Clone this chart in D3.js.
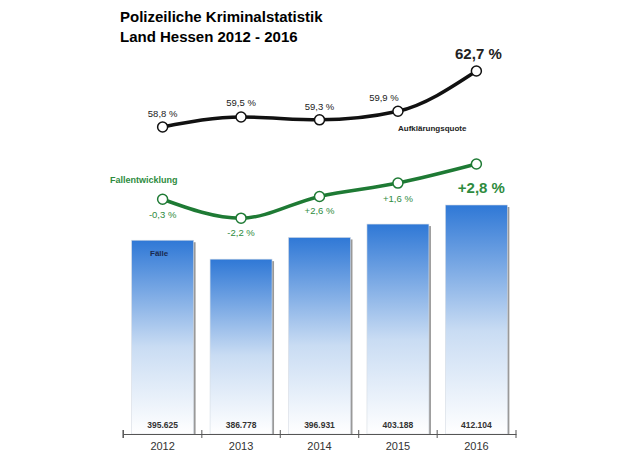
<!DOCTYPE html><html><head><meta charset="utf-8"><script src="https://cdn.jsdelivr.net/npm/d3@7"></script>
<style>body{margin:0;background:#fff}text{font-family:Arial,"Liberation Sans",sans-serif}</style></head><body><svg id="c" width="640" height="456"></svg>
<script>
const years=["2012","2013","2014","2015","2016"];
const cases=[395625,386778,396931,403188,412104];
const caseLabels=["395.625","386.778","396.931","403.188","412.104"];
const quote=[58.8,59.5,59.3,59.9,62.7];
const quoteLabels=["58,8 %","59,5 %","59,3 %","59,9 %","62,7 %"];
const change=["-0,3 %","-2,2 %","+2,6 %","+1,6 %","+2,8 %"];
const svg=d3.select("#c");
const x=d3.scaleBand().domain(years).range([123,516]).paddingInner(0.21).paddingOuter(0.11);
const y=d3.scaleLinear().domain([305000,412104]).range([434,205]);
const yq=d3.scaleLinear().domain([58.8,62.7]).range([127,71]);
const defs=svg.append("defs");
const g=defs.append("linearGradient").attr("id","bg").attr("x1",0).attr("y1",1).attr("x2",0).attr("y2",0);
g.append("stop").attr("offset","0").attr("stop-color","#ffffff");
g.append("stop").attr("offset","0.45").attr("stop-color","#c9dcf3");
g.append("stop").attr("offset","1").attr("stop-color","#2f78d6");
svg.append("text").attr("x",120).attr("y",22).attr("font-size",15).attr("font-weight","bold").text("Polizeiliche Kriminalstatistik");
svg.append("text").attr("x",120).attr("y",42).attr("font-size",15).attr("font-weight","bold").text("Land Hessen 2012 - 2016");
const cx=d=>x(d)+x.bandwidth()/2;
svg.selectAll(".sh").data(years).join("rect").attr("x",d=>x(d)+x.bandwidth()-1).attr("width",3)
 .attr("y",(d,i)=>y(cases[i])+2).attr("height",(d,i)=>434-y(cases[i])-2).attr("fill","#999");
svg.selectAll(".b").data(years).join("rect").attr("x",d=>x(d)).attr("width",x.bandwidth())
 .attr("y",(d,i)=>y(cases[i])).attr("height",(d,i)=>434-y(cases[i])).attr("fill","url(#bg)").attr("stroke","#d5dbe3").attr("stroke-width",0.6);
svg.selectAll(".v").data(years).join("text").attr("x",cx).attr("y",428).attr("text-anchor","middle")
 .attr("font-size",8.5).attr("font-weight","bold").attr("fill","#333").text((d,i)=>caseLabels[i]);
const ax=svg.append("g").attr("transform","translate(0,434)").call(d3.axisBottom(x).tickSize(0).tickPadding(8));
ax.select(".domain").attr("stroke","#555");
ax.selectAll("text").attr("font-size",11).attr("fill","#333").attr("font-family","Arial,Liberation Sans,sans-serif");
[...years.map(d=>x(d)-x.step()*x.paddingInner()/2),516,123].forEach(t=>svg.append("line").attr("x1",t).attr("x2",t).attr("y1",430).attr("y2",438).attr("stroke","#555"));
svg.append("text").attr("x",150).attr("y",256).attr("font-size",8).attr("font-weight","bold").attr("fill","#1a2a50").text("Fälle");
// green line
const gy=(d,i)=>y(cases[i])-41;
svg.append("path").datum(years).attr("d",d3.line().x(cx).y(gy).curve(d3.curveMonotoneX)).attr("fill","none").attr("stroke","#1e7a34").attr("stroke-width",3.5);
svg.selectAll(".gc").data(years).join("circle").attr("cx",cx).attr("cy",gy).attr("r",5).attr("fill","#fff").attr("stroke","#1e7a34").attr("stroke-width",1.5);
svg.append("text").attr("x",110).attr("y",183).attr("font-size",9).attr("font-weight","bold").attr("fill","#2e8b3e").text("Fallentwicklung");
const gl=[[164,216],[241,234],[318,212],[397,201],[480,192]];
svg.selectAll(".gl").data(years).join("text").attr("x",(d,i)=>cx(d)+[0,0,0,0,5][i]).attr("y",(d,i)=>gy(d,i)+[19,18,18,19,29][i])
 .attr("text-anchor","middle").attr("font-size",(d,i)=>i==4?15:9.5).attr("font-weight",(d,i)=>i==4?"bold":"normal").attr("fill","#2e8b3e").text((d,i)=>change[i]);
// black line
const qy=(d,i)=>yq(quote[i]);
svg.append("path").datum(years).attr("d",d3.line().x(cx).y(qy).curve(d3.curveMonotoneX)).attr("fill","none").attr("stroke","#111").attr("stroke-width",3.5);
svg.selectAll(".qc").data(years).join("circle").attr("cx",cx).attr("cy",qy).attr("r",5).attr("fill","#fff").attr("stroke","#111").attr("stroke-width",1.5);
svg.selectAll(".ql").data(years).join("text").attr("x",(d,i)=>cx(d)+[0,0,0,-14,2][i]).attr("y",(d,i)=>qy(d,i)-[10,11,10,10,12][i])
 .attr("text-anchor","middle").attr("font-size",(d,i)=>i==4?15:9.5).attr("font-weight",(d,i)=>i==4?"bold":"normal").attr("fill","#222").text((d,i)=>quoteLabels[i]);
svg.append("text").attr("x",398).attr("y",131).attr("font-size",8).attr("font-weight","bold").attr("fill","#222").text("Aufklärungsquote");
</script></body></html>
